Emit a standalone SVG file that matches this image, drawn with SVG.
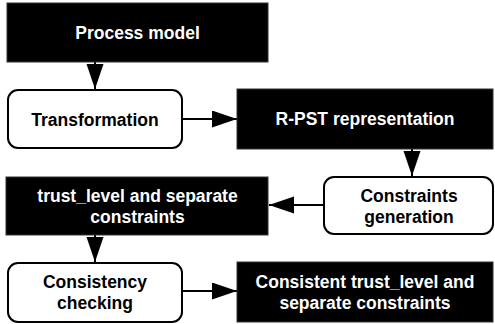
<svg xmlns="http://www.w3.org/2000/svg" width="495" height="324" viewBox="0 0 495 324">
<style>
.dark{fill:#000;stroke:#333;stroke-width:1}
.light{fill:#fff;stroke:#000;stroke-width:2}
text{font-family:"Liberation Sans",Arial,sans-serif;font-weight:bold;font-size:17.5px;text-anchor:middle}
.wt{fill:#fff}
.bt{fill:#000}
.conn{stroke:#000;stroke-width:2;fill:none;marker-end:url(#ah)}
</style>
<defs>
<marker id="ah" markerUnits="userSpaceOnUse" markerWidth="26" markerHeight="18" refX="25" refY="8.5" orient="auto">
<path d="M0,0 L25,8.5 L0,17 Z" fill="#000"/>
</marker>
</defs>
<rect width="495" height="324" fill="#fff"/>
<g id="connectors">
<line class="conn" x1="95" y1="62" x2="95" y2="89"/>
<line class="conn" x1="182" y1="119" x2="237" y2="119"/>
<line class="conn" x1="412" y1="149" x2="412" y2="176"/>
<line class="conn" x1="324" y1="205" x2="269" y2="205"/>
<line class="conn" x1="95" y1="235" x2="95" y2="262"/>
<line class="conn" x1="182" y1="291" x2="237" y2="291"/>
</g>
<g id="process-model">
<rect class="dark" x="7" y="3" width="261" height="59"/>
<text class="wt" x="137.5" y="39">Process model</text>
</g>
<g id="transformation">
<rect class="light" x="8" y="90" width="174" height="58" rx="10"/>
<text class="bt" x="95" y="125.5">Transformation</text>
</g>
<g id="rpst">
<rect class="dark" x="237" y="89" width="256" height="60"/>
<text class="wt" x="365" y="124.5">R-PST representation</text>
</g>
<g id="constraints-generation">
<rect class="light" x="324" y="177" width="169" height="57" rx="10"/>
<text class="bt" x="409" y="202">Constraints</text>
<text class="bt" x="409" y="222.5">generation</text>
</g>
<g id="trust-level">
<rect class="dark" x="6" y="177" width="262" height="58"/>
<text class="wt" x="137.5" y="202">trust_level and separate</text>
<text class="wt" x="137.5" y="222.5">constraints</text>
</g>
<g id="consistency-checking">
<rect class="light" x="8" y="263" width="174" height="59" rx="10"/>
<text class="bt" x="95" y="288">Consistency</text>
<text class="bt" x="95" y="308.5">checking</text>
</g>
<g id="consistent">
<rect class="dark" x="237" y="262" width="256" height="60"/>
<text class="wt" x="365" y="287.5">Consistent trust_level and</text>
<text class="wt" x="365" y="308.5">separate constraints</text>
</g>
</svg>
